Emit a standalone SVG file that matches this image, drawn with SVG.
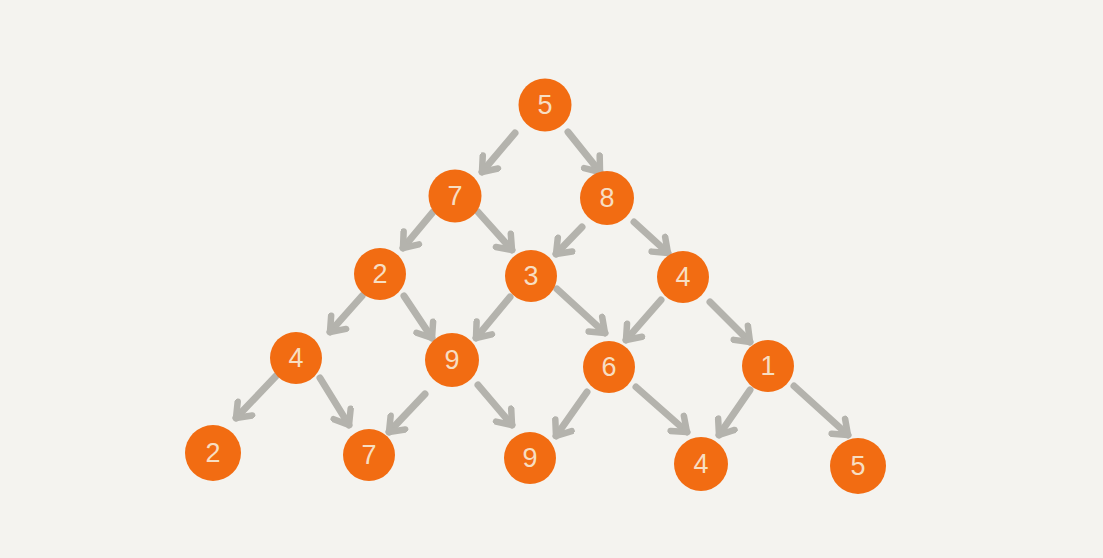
<svg xmlns="http://www.w3.org/2000/svg" width="1103" height="558" viewBox="0 0 1103 558">
<defs>
<marker id="ah" viewBox="0 0 26 26" refX="18" refY="13" markerWidth="26" markerHeight="26" markerUnits="userSpaceOnUse" orient="auto">
<polyline points="5,3 18,13 5,23" fill="none" stroke="#B4B3AD" stroke-width="6.5" stroke-linecap="round" stroke-linejoin="round"/>
</marker>
</defs>
<style>
.n circle{fill:#F26C12}
.n text{fill:#F7DEC2;font-family:"Liberation Sans",sans-serif;font-size:27px;text-anchor:middle;dominant-baseline:central}
#edges line{stroke:#B4B3AD;stroke-width:7;stroke-linecap:round;marker-end:url(#ah)}
</style>
<rect width="1103" height="558" fill="#F4F3EF"/>
<g id="edges">
<line x1="515" y1="133" x2="482" y2="172"/>
<line x1="568" y1="132" x2="600" y2="172"/>
<line x1="433" y1="212" x2="403" y2="248"/>
<line x1="478" y1="212" x2="512" y2="250"/>
<line x1="582" y1="227" x2="556" y2="254"/>
<line x1="634" y1="222" x2="668" y2="253"/>
<line x1="362" y1="296" x2="330" y2="332"/>
<line x1="404" y1="296" x2="432" y2="338"/>
<line x1="510" y1="297" x2="476" y2="338"/>
<line x1="557" y1="289" x2="605" y2="333"/>
<line x1="661" y1="300" x2="626" y2="340"/>
<line x1="710" y1="302" x2="750" y2="342"/>
<line x1="276" y1="376" x2="236" y2="418"/>
<line x1="320" y1="378" x2="349" y2="425"/>
<line x1="425" y1="394" x2="389" y2="432"/>
<line x1="478" y1="385" x2="512" y2="425"/>
<line x1="587" y1="392" x2="556" y2="436"/>
<line x1="636" y1="387" x2="687" y2="432"/>
<line x1="750" y1="390" x2="719" y2="435"/>
<line x1="794" y1="386" x2="848" y2="435"/>
</g>
<g id="n0" class="n"><circle cx="545" cy="105" r="26.5"/><text x="545" y="105">5</text></g>
<g id="n1" class="n"><circle cx="455" cy="196" r="26.5"/><text x="455" y="196">7</text></g>
<g id="n2" class="n"><circle cx="607" cy="198" r="27"/><text x="607" y="198">8</text></g>
<g id="n3" class="n"><circle cx="380" cy="274" r="26"/><text x="380" y="274">2</text></g>
<g id="n4" class="n"><circle cx="531" cy="276" r="26"/><text x="531" y="276">3</text></g>
<g id="n5" class="n"><circle cx="683" cy="277" r="26"/><text x="683" y="277">4</text></g>
<g id="n6" class="n"><circle cx="296" cy="358" r="26"/><text x="296" y="358">4</text></g>
<g id="n7" class="n"><circle cx="452" cy="360" r="27"/><text x="452" y="360">9</text></g>
<g id="n8" class="n"><circle cx="609" cy="367" r="26"/><text x="609" y="367">6</text></g>
<g id="n9" class="n"><circle cx="768" cy="366" r="26"/><text x="768" y="366">1</text></g>
<g id="n10" class="n"><circle cx="213" cy="453" r="28"/><text x="213" y="453">2</text></g>
<g id="n11" class="n"><circle cx="369" cy="455" r="26"/><text x="369" y="455">7</text></g>
<g id="n12" class="n"><circle cx="530" cy="458" r="26"/><text x="530" y="458">9</text></g>
<g id="n13" class="n"><circle cx="701" cy="464" r="27"/><text x="701" y="464">4</text></g>
<g id="n14" class="n"><circle cx="858" cy="466" r="28"/><text x="858" y="466">5</text></g>
</svg>
